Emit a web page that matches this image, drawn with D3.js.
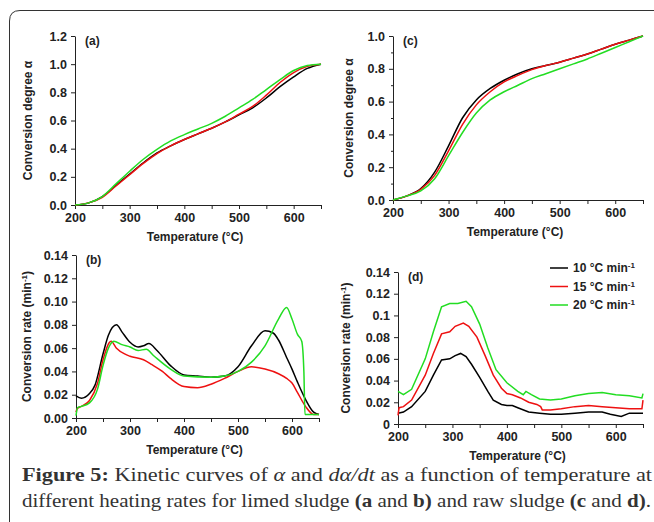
<!DOCTYPE html>
<html>
<head>
<meta charset="utf-8">
<script src="https://cdn.jsdelivr.net/npm/d3@7"></script>
<style>
  body { margin: 0; background: #fff; }
  svg { display: block; }
  .tick text { font-family: "Liberation Sans", Arial, sans-serif; font-weight: bold; font-size: 12.5px; fill: #222; }
  .domain, .tick line { stroke: #222; }
  .ttl { font-family: "Liberation Sans", Arial, sans-serif; font-weight: bold; font-size: 12px; fill: #222; }
</style>
</head>
<body>
<div id="fig"></div>
<script>
var svgWidth = 654, svgHeight = 522;

// temperatures for alpha curves (a) and (c)
var tempsA = [200,225,250,275,300,325,350,375,400,425,450,475,500,525,550,575,600,625,650];
var aBlack = [0,0.015,0.06,0.14,0.22,0.30,0.37,0.42,0.465,0.505,0.545,0.59,0.64,0.69,0.76,0.84,0.91,0.97,1.0];
var aRed   = [0,0.015,0.055,0.135,0.215,0.295,0.365,0.42,0.465,0.505,0.545,0.59,0.645,0.70,0.78,0.87,0.94,0.985,1.0];
var aGreen = [0,0.015,0.06,0.15,0.24,0.325,0.395,0.455,0.50,0.54,0.58,0.63,0.69,0.75,0.82,0.89,0.955,0.99,1.0];

var cBlack = [0,0.025,0.07,0.17,0.33,0.50,0.61,0.68,0.73,0.77,0.80,0.82,0.84,0.865,0.89,0.92,0.95,0.975,1.0];
var cRed   = [0,0.025,0.065,0.15,0.30,0.46,0.58,0.66,0.72,0.76,0.795,0.82,0.84,0.865,0.89,0.92,0.95,0.975,1.0];
var cGreen = [0,0.025,0.055,0.13,0.27,0.41,0.53,0.61,0.66,0.70,0.74,0.77,0.80,0.83,0.86,0.895,0.93,0.965,1.0];

// conversion rate (b)
var bBlackT = [200,210,225,235,250,260,275,285,300,315,325,335,350,375,400,425,450,475,500,525,550,565,575,590,600,610,625,640,650];
var bBlack  = [0.019,0.017,0.021,0.028,0.055,0.071,0.080,0.074,0.065,0.061,0.062,0.064,0.058,0.045,0.037,0.036,0.035,0.036,0.044,0.062,0.075,0.073,0.067,0.052,0.042,0.031,0.016,0.005,0.003];
var bRedT = [200,202,210,225,240,250,265,275,290,300,325,340,360,375,400,425,450,475,500,525,550,575,590,600,610,625,640,650];
var bRed  = [0.005,0.008,0.010,0.015,0.030,0.050,0.066,0.060,0.055,0.053,0.050,0.046,0.040,0.034,0.027,0.026,0.029,0.034,0.040,0.044,0.042,0.038,0.034,0.030,0.022,0.010,0.003,0.003];
var bGreenT = [200,203,210,225,240,250,260,270,285,300,315,330,345,375,400,450,475,500,525,550,575,590,600,610,618,622,624,650];
var bGreen  = [0.002,0.009,0.010,0.013,0.025,0.045,0.060,0.066,0.063,0.061,0.058,0.059,0.053,0.042,0.036,0.035,0.036,0.040,0.048,0.062,0.085,0.095,0.085,0.072,0.066,0.040,0.003,0.003];

// conversion rate (d)
var dBlackT = [200,210,225,250,265,280,295,305,315,325,335,350,365,375,390,400,410,420,440,460,480,500,525,550,575,590,610,625,650];
var dBlack  = [0.010,0.011,0.016,0.030,0.045,0.059,0.060,0.063,0.065,0.062,0.055,0.043,0.030,0.022,0.018,0.017,0.017,0.015,0.011,0.010,0.009,0.009,0.010,0.011,0.011,0.009,0.007,0.010,0.010];
var dRedT = [200,202,210,225,250,265,280,295,305,320,330,345,360,375,390,400,410,425,440,455,462,465,480,500,525,550,575,600,625,648,650];
var dRed  = [0.008,0.015,0.016,0.022,0.045,0.065,0.083,0.085,0.090,0.093,0.090,0.080,0.063,0.045,0.033,0.028,0.027,0.024,0.020,0.018,0.016,0.013,0.013,0.014,0.016,0.017,0.016,0.015,0.014,0.014,0.022];
var dGreenT = [200,210,225,250,265,280,295,310,325,335,350,365,380,400,420,430,435,445,460,480,500,525,550,575,600,625,648,650];
var dGreen  = [0.030,0.027,0.032,0.060,0.085,0.108,0.111,0.111,0.113,0.108,0.092,0.070,0.050,0.038,0.030,0.027,0.030,0.027,0.023,0.022,0.023,0.026,0.028,0.029,0.027,0.026,0.024,0.028];

var seriesNames = ["10 °C min", "15 °C min", "20 °C min"];
var seriesColors = ["#000000", "#ee1111", "#22dd22"];

var svg = d3.select("#fig").append("svg")
  .attr("width", svgWidth)
  .attr("height", svgHeight);

// frame with rounded corner
svg.append("path")
  .attr("d", "M9.5,522 L9.5,21 Q9.5,10.5 20,10.5 L654,10.5")
  .attr("fill", "none")
  .attr("stroke", "#333")
  .attr("stroke-width", 1);

function drawPanel(cfg) {
  var x = d3.scaleLinear().domain([200, 650]).range([cfg.x0, cfg.x1]);
  var y = d3.scaleLinear().domain(cfg.yDomain).range([cfg.y0, cfg.y1]);
  var g = svg.append("g");

  // x axis: ticks every 50, labels every 100
  g.append("g")
    .attr("transform", `translate(0,${cfg.y0})`)
    .call(d3.axisBottom(x).tickValues(d3.range(200, 651, 50)).tickSize(4).tickPadding(4).tickSizeOuter(0)
      .tickFormat(d => d % 100 === 0 && d <= 600 ? d : ""));

  var yAxis = d3.axisLeft(y).tickValues(cfg.yTicks).tickSize(4).tickPadding(4).tickSizeOuter(0).tickFormat(cfg.yFormat);
  g.append("g")
    .attr("transform", `translate(${cfg.x0},0)`)
    .call(yAxis);
  if (cfg.yMinor) {
    g.append("g")
      .attr("transform", `translate(${cfg.x0},0)`)
      .call(d3.axisLeft(y).tickValues(cfg.yMinor).tickSize(2).tickFormat(""))
      .select(".domain").remove();
  }

  var line = d3.line().x(d => x(d[0])).y(d => y(d[1])).curve(cfg.curve);
  cfg.series.forEach(function(s, i) {
    g.append("path")
      .datum(s.t.map((t, j) => [t, s.v[j]]))
      .attr("fill", "none")
      .attr("stroke", seriesColors[i])
      .attr("stroke-width", 1.5)
      .attr("d", line);
  });

  // panel letter
  g.append("text").attr("class", "ttl")
    .attr("x", cfg.x0 + 10).attr("y", cfg.y1 + 9)
    .attr("font-size", 12.5)
    .text(cfg.label);

  g.append("text").attr("class", "ttl")
    .attr("x", (cfg.x0 + cfg.x1) / 2 - 3).attr("y", cfg.y0 + 36)
    .attr("text-anchor", "middle")
    .text("Temperature (°C)");

  var yt = g.append("text").attr("class", "ttl")
    .attr("transform", `translate(${cfg.ytx},${(cfg.y0 + cfg.y1) / 2}) rotate(-90)`)
    .attr("text-anchor", "middle");
  if (cfg.rate) {
    yt.append("tspan").text("Conversion rate (min");
    yt.append("tspan").attr("dy", -4).attr("font-size", 8).text("-1");
    yt.append("tspan").attr("dy", 4).text(")");
  } else {
    yt.text("Conversion degree α");
  }
  return { x: x, y: y, g: g };
}

drawPanel({
  x0: 75, x1: 321, y0: 205, y1: 36, yDomain: [0, 1.2],
  yTicks: d3.range(0, 1.21, 0.2), yFormat: d3.format(".1f"), ytx: 32,
  label: "(a)", curve: d3.curveMonotoneX,
  series: [{ t: tempsA, v: aBlack }, { t: tempsA, v: aRed }, { t: tempsA, v: aGreen }]
});

drawPanel({
  x0: 393, x1: 643, y0: 200, y1: 36, yDomain: [0, 1.0],
  yTicks: d3.range(0, 1.01, 0.2), yMinor: [0.1, 0.3, 0.5, 0.7, 0.9],
  yFormat: d3.format(".1f"), ytx: 353,
  label: "(c)", curve: d3.curveMonotoneX,
  series: [{ t: tempsA, v: cBlack }, { t: tempsA, v: cRed }, { t: tempsA, v: cGreen }]
});

drawPanel({
  x0: 76, x1: 319, y0: 418, y1: 255, yDomain: [0, 0.14],
  yTicks: d3.range(0, 0.141, 0.02), yFormat: d3.format(".2f"), ytx: 31, rate: true,
  label: "(b)", curve: d3.curveMonotoneX,
  series: [{ t: bBlackT, v: bBlack }, { t: bRedT, v: bRed }, { t: bGreenT, v: bGreen }]
});

drawPanel({
  x0: 398, x1: 643, y0: 424, y1: 272, yDomain: [0, 0.14],
  yTicks: d3.range(0, 0.141, 0.02), yFormat: d => d === 0 ? "0" : d3.format("~g")(+d.toFixed(2)), ytx: 350, rate: true,
  label: "(d)", curve: d3.curveLinear,
  series: [{ t: dBlackT, v: dBlack }, { t: dRedT, v: dRed }, { t: dGreenT, v: dGreen }]
});

// legend for (d)
var legend = svg.append("g");
seriesNames.forEach(function(name, i) {
  var ly = 268 + i * 18.5;
  legend.append("line")
    .attr("x1", 550).attr("x2", 568).attr("y1", ly).attr("y2", ly)
    .attr("stroke", seriesColors[i]).attr("stroke-width", 1.5);
  var lt = legend.append("text").attr("class", "ttl")
    .attr("x", 573).attr("y", ly + 4);
  lt.append("tspan").text(name);
  lt.append("tspan").attr("dy", -4).attr("font-size", 8).text("-1");
});

// caption
var cap = svg.append("g")
  .attr("font-family", "'Liberation Serif', 'DejaVu Serif', serif")
  .attr("font-size", 19)
  .attr("fill", "#333");
var l1 = cap.append("text").attr("x", 22).attr("y", 481)
  .attr("textLength", 630).attr("lengthAdjust", "spacingAndGlyphs");
l1.append("tspan").attr("font-weight", "bold").text("Figure 5:");
l1.append("tspan").text(" Kinetic curves of ");
l1.append("tspan").attr("font-style", "italic").text("α");
l1.append("tspan").text(" and ");
l1.append("tspan").attr("font-style", "italic").text("dα/dt");
l1.append("tspan").text(" as a function of temperature at");
var l2 = cap.append("text").attr("x", 22).attr("y", 507)
  .attr("textLength", 629).attr("lengthAdjust", "spacingAndGlyphs");
l2.append("tspan").text("different heating rates for limed sludge ");
l2.append("tspan").attr("font-weight", "bold").text("(a");
l2.append("tspan").text(" and ");
l2.append("tspan").attr("font-weight", "bold").text("b)");
l2.append("tspan").text(" and raw sludge ");
l2.append("tspan").attr("font-weight", "bold").text("(c");
l2.append("tspan").text(" and ");
l2.append("tspan").attr("font-weight", "bold").text("d)");
l2.append("tspan").text(".");
</script>
</body>
</html>
